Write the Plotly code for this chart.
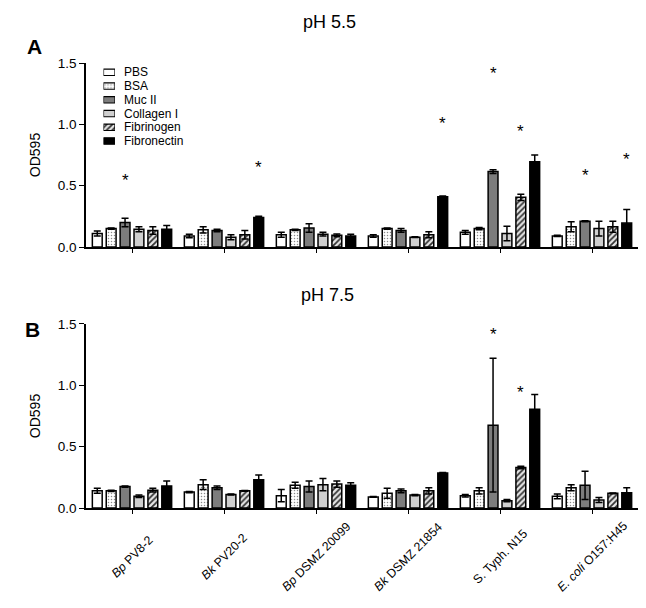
import plotly.graph_objects as go

# ---------------- data ----------------
strains = ["<i>Bp</i> PV8-2", "<i>Bk</i> PV20-2", "<i>Bp</i> DSMZ 20099",
           "<i>Bk</i> DSMZ 21854", "S. Typh. N15", "<i>E. coli</i> O157:H45"]
series = ["PBS", "BSA", "Muc II", "Collagen I", "Fibrinogen", "Fibronectin"]

# pH 5.5 (panel A)
pbs_a = [0.11, 0.09, 0.10, 0.09, 0.12, 0.09]
pbs_a_err = [0.02, 0.015, 0.02, 0.01, 0.015, 0.005]
bsa_a = [0.15, 0.14, 0.14, 0.15, 0.15, 0.165]
bsa_a_err = [0.005, 0.025, 0.005, 0.005, 0.01, 0.04]
muc_a = [0.20, 0.135, 0.155, 0.135, 0.615, 0.21]
muc_a_err = [0.035, 0.01, 0.035, 0.015, 0.015, 0.005]
col_a = [0.145, 0.08, 0.105, 0.08, 0.11, 0.15]
col_a_err = [0.02, 0.02, 0.015, 0.003, 0.06, 0.06]
fbg_a = [0.135, 0.10, 0.095, 0.10, 0.405, 0.165]
fbg_a_err = [0.03, 0.035, 0.012, 0.025, 0.025, 0.045]
fn_a = [0.145, 0.24, 0.09, 0.41, 0.695, 0.195]
fn_a_err = [0.03, 0.01, 0.015, 0.005, 0.055, 0.11]

# pH 7.5 (panel B)
pbs_b = [0.14, 0.13, 0.10, 0.09, 0.10, 0.095]
pbs_b_err = [0.02, 0.005, 0.05, 0.003, 0.01, 0.02]
bsa_b = [0.14, 0.19, 0.185, 0.12, 0.14, 0.165]
bsa_b_err = [0.005, 0.04, 0.025, 0.04, 0.025, 0.025]
muc_b = [0.175, 0.165, 0.175, 0.14, 0.675, 0.185]
muc_b_err = [0.005, 0.015, 0.045, 0.015, 0.545, 0.115]
col_b = [0.095, 0.11, 0.19, 0.105, 0.06, 0.065]
col_b_err = [0.01, 0.005, 0.05, 0.005, 0.01, 0.02]
fbg_b = [0.145, 0.14, 0.195, 0.14, 0.33, 0.12]
fbg_b_err = [0.015, 0.003, 0.025, 0.025, 0.01, 0.003]
fn_b = [0.18, 0.23, 0.185, 0.285, 0.805, 0.125]
fn_b_err = [0.04, 0.04, 0.02, 0.005, 0.12, 0.04]

# significance stars: (strain index, series index, star height)
stars_a = [(0, 2, 0.576), (1, 5, 0.677), (3, 5, 1.04), (4, 2, 1.448),
           (4, 4, 0.975), (4, 5, 1.58), (5, 2, 0.614), (5, 5, 0.742)]
stars_b = [(4, 2, 1.45), (4, 4, 0.978), (4, 5, 1.58)]

y_ticks = [0.0, 0.5, 1.0, 1.5]

# ---------------- styling ----------------
FONT = "Liberation Sans, Arial, sans-serif"
styles = [
    dict(color="white"),
    dict(color="white", pattern=dict(shape=".", fgcolor="#8a8a8a", bgcolor="white",
                                     size=3, solidity=0.2, fillmode="replace")),
    dict(color="#7d7d7d"),
    dict(color="#cfcfcf"),
    dict(color="white", pattern=dict(shape="/", fgcolor="#333333", bgcolor="#e6e6e6",
                                     size=4, solidity=0.45, fillmode="replace")),
    dict(color="black"),
]
SLOT = 0.151
BAR_W = 0.107

panel_a = [(pbs_a, pbs_a_err), (bsa_a, bsa_a_err), (muc_a, muc_a_err),
           (col_a, col_a_err), (fbg_a, fbg_a_err), (fn_a, fn_a_err)]
panel_b = [(pbs_b, pbs_b_err), (bsa_b, bsa_b_err), (muc_b, muc_b_err),
           (col_b, col_b_err), (fbg_b, fbg_b_err), (fn_b, fn_b_err)]

fig = go.Figure()


def pos(i, j):
    return i + (j - 2.5) * SLOT


for (xa, ya, data) in [("x", "y", panel_a), ("x2", "y2", panel_b)]:
    for j, (vals, errs) in enumerate(data):
        fig.add_trace(go.Bar(
            x=[pos(i, j) for i in range(len(vals))], y=vals, width=BAR_W,
            name=series[j], showlegend=False, xaxis=xa, yaxis=ya,
            marker=dict(line=dict(color="black", width=1.5), **styles[j]),
            error_y=dict(type="data", array=errs, visible=True, color="black",
                         thickness=1.5, width=3.5),
        ))

# legend drawn as a small bar chart
for j, name in enumerate(series):
    fig.add_trace(go.Bar(
        x=[1], y=[j], base=0, orientation="h", width=0.47, name=name,
        showlegend=False, xaxis="x3", yaxis="y3",
        marker=dict(line=dict(color="black", width=1.2), **styles[j]),
    ))

annotations = []
for (xr, yr, stars) in [("x", "y", stars_a), ("x2", "y2", stars_b)]:
    for (i, j, h) in stars:
        annotations.append(dict(x=pos(i, j), y=h, xref=xr, yref=yr, text="*",
                                showarrow=False, yshift=-4,
                                font=dict(size=17, color="black", family=FONT)))

# rotated category labels (centred on each tick)
for i, s in enumerate(strains):
    annotations.append(dict(x=i, y=-0.1101, xref="x2", yref="paper", text=s,
                            textangle=-45, showarrow=False,
                            xanchor="center", yanchor="middle",
                            font=dict(size=12.3, color="black", family=FONT)))

annotations += [
    dict(x=0.442, y=1.092, xref="paper", yref="paper", text="pH 5.5", showarrow=False,
         xanchor="center", yanchor="middle",
         font=dict(size=18, color="black", family=FONT)),
    dict(x=0.4384, y=0.4787, xref="paper", yref="paper", text="pH 7.5", showarrow=False,
         xanchor="center", yanchor="middle",
         font=dict(size=18, color="black", family=FONT)),
    dict(x=-0.0942, y=1.036, xref="paper", yref="paper", text="<b>A</b>", showarrow=False,
         xanchor="center", yanchor="middle",
         font=dict(size=21, color="black", family=FONT)),
    dict(x=-0.0969, y=0.4022, xref="paper", yref="paper", text="<b>B</b>", showarrow=False,
         xanchor="center", yanchor="middle",
         font=dict(size=21, color="black", family=FONT)),
]

xcommon = dict(range=[-0.5, 5.5], showline=True, linecolor="black", linewidth=1.5,
               ticks="outside", ticklen=4, tickwidth=1.2, tickcolor="black",
               tickvals=list(range(len(strains))), showgrid=False, zeroline=False,
               showticklabels=False, fixedrange=True)
ycommon = dict(range=[0, 1.5], showline=True, linecolor="black", linewidth=1.5,
               ticks="outside", ticklen=5, tickwidth=1.2, tickcolor="black",
               tickvals=y_ticks, tickformat=".1f", showgrid=False, zeroline=False,
               tickfont=dict(size=13.5, color="black", family=FONT),
               title=dict(text="OD595", font=dict(size=14, color="black", family=FONT),
                          standoff=14))

fig.update_layout(
    width=646, height=608,
    margin=dict(l=86, r=8, t=63, b=100),
    paper_bgcolor="white", plot_bgcolor="white",
    barmode="overlay", showlegend=False,
    font=dict(family=FONT, color="black"),
    xaxis=dict(domain=[0, 1], anchor="y", **xcommon),
    yaxis=dict(domain=[0.5865, 1], anchor="x", **ycommon),
    xaxis2=dict(domain=[0, 1], anchor="y2", **xcommon),
    yaxis2=dict(domain=[0, 0.4135], anchor="x2", **ycommon),
    xaxis3=dict(domain=[0.0317, 0.0525], anchor="y3", range=[0, 1], visible=False,
                fixedrange=True),
    yaxis3=dict(domain=[0.8092, 0.9946], anchor="x3", range=[5.5, -0.5], side="right",
                showline=False, showgrid=False, zeroline=False, ticks="",
                tickvals=list(range(len(series))), ticktext=series,
                ticklabelstandoff=8,
                tickfont=dict(size=12, color="black", family=FONT), fixedrange=True),
    annotations=annotations,
)

fig.write_html("out.html", config={"displayModeBar": False},
               post_script="document.body.style.margin='0px';")
